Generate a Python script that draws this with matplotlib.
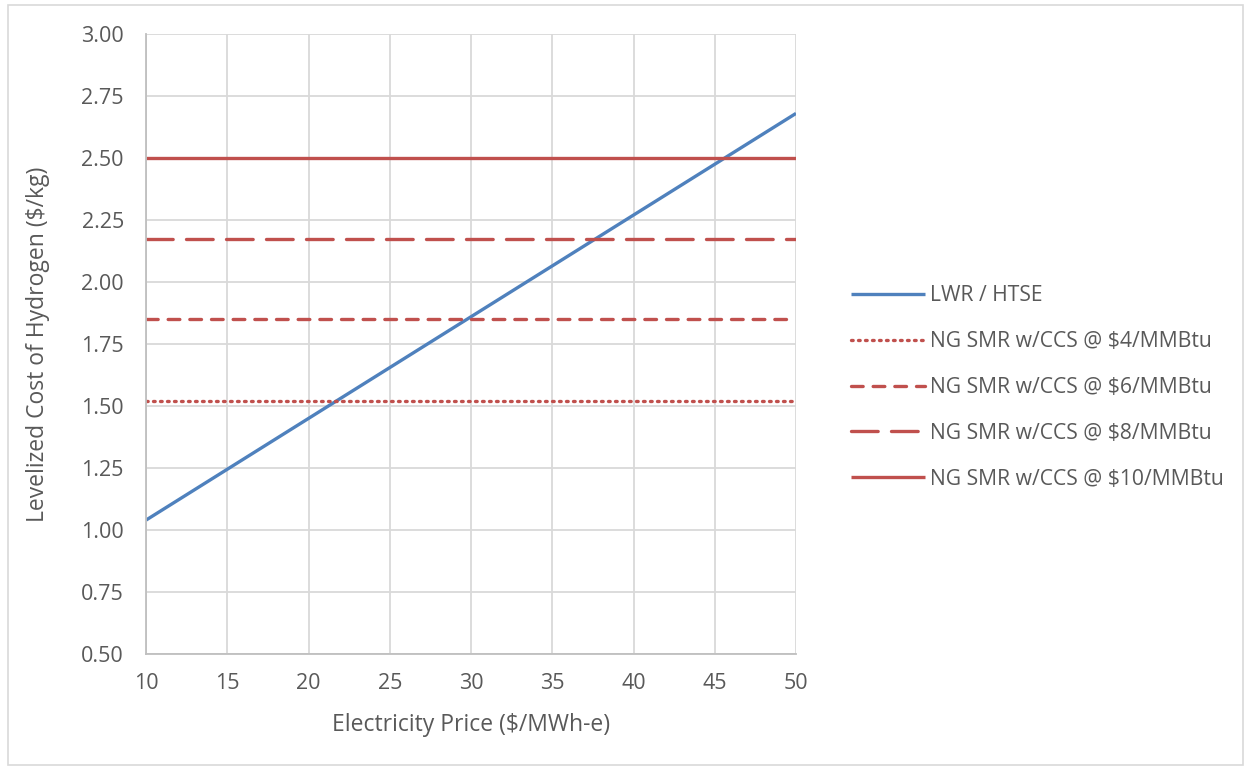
import matplotlib.pyplot as plt
from matplotlib.patches import Rectangle

plt.rcParams['font.family'] = ['Open Sans', 'DejaVu Sans']

# electricity price ($/MWh-e) and LWR/HTSE levelized hydrogen cost ($/kg)
price = [10, 20, 30, 40, 50]
lwr_htse = [1.04, 1.45, 1.86, 2.27, 2.68]

# natural gas SMR with CCS, flat cost at each gas price
gas_labels = ["NG SMR w/CCS @ $4/MMBtu", "NG SMR w/CCS @ $6/MMBtu",
              "NG SMR w/CCS @ $8/MMBtu", "NG SMR w/CCS @ $10/MMBtu"]
gas_costs = [1.52, 1.85, 2.175, 2.50]

blue = '#4F81BD'
red = '#C0504D'
txt = '#595959'
grid = '#D9D9D9'

fig = plt.figure(figsize=(12.5, 7.7), dpi=100)
fig.patches.append(Rectangle((0.006, 0.006), 0.988, 0.988, transform=fig.transFigure,
                             fill=False, edgecolor=grid, linewidth=1.2))
ax = fig.add_axes([0.1168, 0.1506, 0.52, 0.8052])

lw = 2.4
ax.plot(price, lwr_htse, color=blue, lw=lw, label="LWR / HTSE", solid_capstyle='butt')
styles = [dict(linestyle=(0, (0.5, 1.6)), dash_capstyle='round'),
          dict(linestyle=(0, (3.5, 3)), dash_capstyle='round'),
          dict(linestyle=(0, (8, 4)), dash_capstyle='round'),
          dict(linestyle='-', solid_capstyle='butt')]
for lab, c, st in zip(gas_labels, gas_costs, styles):
    ax.plot([price[0], price[-1]], [c, c], color=red, lw=lw, label=lab, **st)

ax.set_xlim(10, 50)
ax.set_ylim(0.5, 3.0)
ax.set_xticks(range(10, 51, 5))
ax.set_yticks([0.5 + 0.25 * i for i in range(11)])
ax.set_yticklabels([f"{0.5 + 0.25 * i:.2f}" for i in range(11)])
ax.grid(True, color=grid, lw=1.3)
ax.set_axisbelow(True)
for s in ['top', 'right']:
    ax.spines[s].set_visible(False)
for s in ['left', 'bottom']:
    ax.spines[s].set_color('#BFBFBF')
    ax.spines[s].set_linewidth(1.3)
ax.tick_params(length=0, labelsize=15.5, colors=txt)
ax.tick_params(axis='x', pad=14)
ax.tick_params(axis='y', pad=16)
ax.set_xlabel("Electricity Price ($/MWh-e)", fontsize=16.5, color=txt, labelpad=13)
ax.set_ylabel("Levelized Cost of Hydrogen ($/kg)", fontsize=16.5, color=txt, labelpad=22)

leg = ax.legend(loc='center left', bbox_to_anchor=(1.055, 0.43), frameon=False,
                fontsize=15.2, handlelength=3.5, handletextpad=0.25, labelspacing=1.18)
for t in leg.get_texts():
    t.set_color(txt)

fig.savefig('out.png', dpi=100)
